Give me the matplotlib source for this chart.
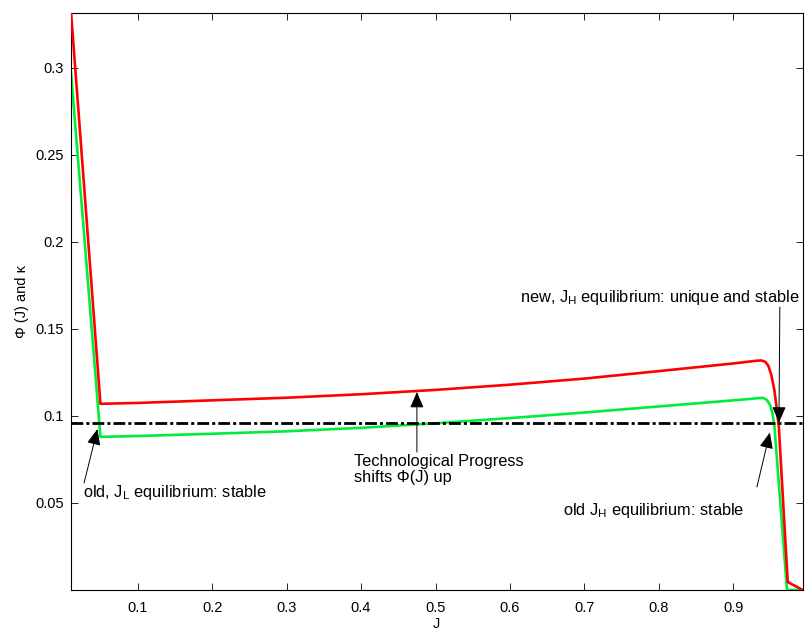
#!/usr/bin/env python3
"""
Phi(J) before and after technological progress, against kappa
"""
import matplotlib
matplotlib.use('Agg')
import matplotlib.pyplot as plt

# J grid and Phi(J) values
J_vals = [0.01, 0.05, 0.1, 0.2, 0.3, 0.4, 0.5, 0.6, 0.7, 0.8, 0.9,
          0.92, 0.932, 0.938, 0.943, 0.947, 0.951, 0.955, 0.958, 0.961,
          0.973, 0.993]
phi_new = [0.335, 0.107, 0.1075, 0.109, 0.1105, 0.1125, 0.115, 0.118,
           0.1215, 0.1258, 0.1302, 0.1312, 0.1318, 0.1319, 0.1311, 0.1288,
           0.1235, 0.115, 0.105, 0.094, 0.0046, 0.0]

J_old = [0.01, 0.05, 0.1, 0.2, 0.3, 0.4, 0.5, 0.6, 0.7, 0.8, 0.9,
         0.92, 0.934, 0.940, 0.945, 0.949, 0.952, 0.955, 0.972, 0.993]
phi_old = [0.300, 0.088, 0.0885, 0.0898, 0.0912, 0.0932, 0.0958, 0.0988,
           0.102, 0.1055, 0.109, 0.1097, 0.1103, 0.1104, 0.1092, 0.1065,
           0.1025, 0.095, 0.0, 0.0]

kappa = 0.0957

x_ticks = [0.1, 0.2, 0.3, 0.4, 0.5, 0.6, 0.7, 0.8, 0.9]
y_ticks = [0.05, 0.1, 0.15, 0.2, 0.25, 0.3]

plt.rcParams['font.family'] = ['Liberation Sans', 'DejaVu Sans']
plt.rcParams['font.size'] = 10.5
plt.rcParams['lines.scale_dashes'] = False

fig = plt.figure(figsize=(8.08, 6.29), dpi=100)
ax = fig.add_axes([70.5 / 808, 39 / 629, 732.5 / 808, 577 / 629])

ax.plot(J_vals, phi_new, color='#ff0000', lw=1.9, zorder=3)
ax.plot(J_old, phi_old, color='#00ee3a', lw=1.9, zorder=2)
ax.axhline(kappa, color='black', lw=2.0, dashes=(8.5, 2.2, 2.2, 2.2), zorder=4)

ax.set_xlim(0.0098, 0.9935)
ax.set_ylim(0.0, 0.3316)
ax.set_xticks(x_ticks)
ax.set_yticks(y_ticks)
ax.set_xticklabels([f'{t:g}' for t in x_ticks])
ax.set_yticklabels([f'{t:g}' for t in y_ticks])
ax.tick_params(direction='in', top=True, right=True, length=5, width=0.6)
ax.tick_params(axis='x', pad=8)
ax.tick_params(axis='y', pad=5)
for s in ax.spines.values():
    s.set_linewidth(0.8)

ax.set_xlabel('J', labelpad=1)
ax.set_ylabel('\u03a6 (J) and \u03ba', labelpad=4)

arrow = dict(arrowstyle='-|>,head_length=0.7,head_width=0.3', color='black',
             lw=0.7, mutation_scale=14, shrinkA=0, shrinkB=0)
fs = 11.8

# old low equilibrium
ax.annotate('', xy=(0.046, 0.0925), xytext=(0.028, 0.0615), arrowprops=arrow)
ax.text(0.0266, 0.0534, r'old, J$_\mathregular{L}$ equilibrium: stable',
        va='baseline', ha='left', fontsize=fs)

# technological progress
ax.annotate('', xy=(0.475, 0.1138), xytext=(0.475, 0.0793), arrowprops=arrow)
ax.text(0.390, 0.0713, 'Technological Progress', va='baseline', ha='left',
        fontsize=fs)
ax.text(0.390, 0.0623, 'shifts \u03a6(J) up', va='baseline', ha='left',
        fontsize=fs)

# new high equilibrium
ax.annotate('', xy=(0.9612, 0.0962), xytext=(0.9624, 0.1626), arrowprops=arrow)
ax.text(0.614, 0.1655, r'new, J$_\mathregular{H}$ equilibrium: unique and stable',
        va='baseline', ha='left', fontsize=fs)

# old high equilibrium
ax.annotate('', xy=(0.949, 0.0905), xytext=(0.9316, 0.0592), arrowprops=arrow)
ax.text(0.671, 0.0431, r'old J$_\mathregular{H}$ equilibrium: stable',
        va='baseline', ha='left', fontsize=fs)

fig.savefig('out.png', dpi=100)
